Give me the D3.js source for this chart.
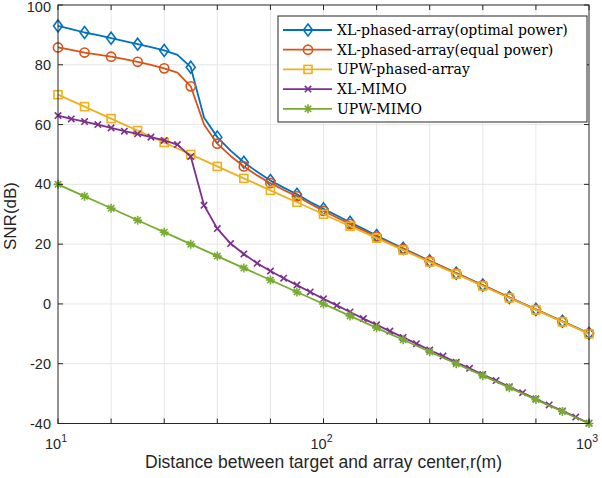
<!DOCTYPE html>
<html>
<head>
<meta charset="utf-8">
<script src="https://cdn.jsdelivr.net/npm/d3@7"></script>
<style>
  body { margin: 0; background: #fff; }
  svg { display: block; }
</style>
</head>
<body>
<div id="chart"></div>
<script>
// distance r (m), sampled every 0.05 decade
const distance = [10, 11.22, 12.59, 14.13, 15.85, 17.78, 19.95, 22.39, 25.12, 28.18,
    31.62, 35.48, 39.81, 44.67, 50.12, 56.23, 63.10, 70.79, 79.43, 89.13,
    100, 112.2, 125.9, 141.3, 158.5, 177.8, 199.5, 223.9, 251.2, 281.8,
    316.2, 354.8, 398.1, 446.7, 501.2, 562.3, 631.0, 707.9, 794.3, 891.3, 1000];

const xlOptimal = [93, 91.9, 90.8, 89.9, 88.9, 87.9, 86.9, 85.9, 84.8, 83.3,
    79.2, 62.4, 55.8, 51.3, 47.4, 44.2, 41.3, 38.9, 36.7, 34.1,
    31.8, 29.6, 27.3, 25.1, 22.9, 20.7, 18.6, 16.5, 14.4, 12.4,
    10.3, 8.3, 6.3, 4.2, 2.2, 0.2, -1.8, -3.8, -5.8, -7.8, -9.8];

const xlEqual = [85.8, 85.0, 84.1, 83.4, 82.7, 81.9, 81.0, 80.0, 78.8, 77.4,
    72.8, 60.0, 53.6, 49.5, 46.0, 43.0, 40.4, 38.1, 36.0, 33.5,
    31.1, 28.9, 26.7, 24.6, 22.5, 20.4, 18.4, 16.3, 14.3, 12.3,
    10.2, 8.2, 6.2, 4.2, 2.1, 0.1, -1.9, -3.9, -5.9, -7.9, -9.9];

const upwPhased = [70, 68, 66, 64, 62, 60, 58, 56, 54, 52,
    50, 48, 46, 44, 42, 40, 38, 36, 34, 32,
    30, 28, 26, 24, 22, 20, 18, 16, 14, 12,
    10, 8, 6, 4, 2, 0, -2, -4, -6, -8, -10];

const xlMimo = [63, 61.9, 61.0, 60.0, 58.9, 57.8, 56.9, 55.8, 54.7, 53.3,
    49.3, 33, 25.2, 20.2, 16.7, 13.6, 11, 8.6, 6.3, 4.0,
    1.7, -0.5, -2.7, -4.9, -7.0, -9.1, -11.2, -13.3, -15.4, -17.45,
    -19.5, -21.55, -23.6, -25.65, -27.7, -29.7, -31.75, -33.8, -35.8, -37.85, -39.9];

const upwMimo = [40, 38, 36, 34, 32, 30, 28, 26, 24, 22,
    20, 18, 16, 14, 12, 10, 8, 6, 4, 2,
    0, -2, -4, -6, -8, -10, -12, -14, -16, -18,
    -20, -22, -24, -26, -28, -30, -32, -34, -36, -38, -40];

const xTicks = [10, 15.85, 25.12, 39.81, 63.10, 100, 158.5, 251.2, 398.1, 631.0, 1000];
const xLabelTicks = [10, 100, 1000];
const xLabelExp = ["1", "2", "3"];
const yTicks = [-40, -20, 0, 20, 40, 60, 80, 100];

const series = [
    { name: "XL-phased-array(optimal power)", values: xlOptimal, color: "#0072BD", marker: "diamond", step: 2 },
    { name: "XL-phased-array(equal power)", values: xlEqual, color: "#D95319", marker: "circle", step: 2 },
    { name: "UPW-phased-array", values: upwPhased, color: "#EDB120", marker: "square", step: 2 },
    { name: "XL-MIMO", values: xlMimo, color: "#7E2F8E", marker: "cross", step: 1 },
    { name: "UPW-MIMO", values: upwMimo, color: "#77AC30", marker: "asterisk", step: 2 }
];

const W = 602, H = 478;
const margin = { left: 58, right: 13, top: 5, bottom: 54.5 };
const axisColor = "#262626";

const svg = d3.select("#chart").append("svg")
    .attr("width", W)
    .attr("height", H);

const x = d3.scaleLog()
    .domain([10, 1000])
    .range([margin.left, W - margin.right]);
const y = d3.scaleLinear()
    .domain([-40, 100])
    .range([H - margin.bottom, margin.top]);

const x0 = x.range()[0], x1 = x.range()[1];
const y0 = y.range()[0], y1 = y.range()[1];

// Grid
const grid = svg.append("g").attr("stroke", "#e6e6e6").attr("stroke-width", 1);
grid.selectAll("line.gx").data(xTicks.slice(1, -1)).enter()
    .append("line")
    .attr("x1", d => x(d)).attr("x2", d => x(d))
    .attr("y1", y1).attr("y2", y0);
grid.selectAll("line.gy").data(yTicks.slice(1, -1)).enter()
    .append("line")
    .attr("x1", x0).attr("x2", x1)
    .attr("y1", d => y(d)).attr("y2", d => y(d));

// Lines
const line = d3.line()
    .x((d, i) => x(distance[i]))
    .y(d => y(d));

function drawMarker(g, type, color) {
    if (type === "diamond") {
        g.append("path").attr("d", "M0,-6L4.5,0L0,6L-4.5,0Z")
            .attr("fill", "none").attr("stroke", color).attr("stroke-width", 1.6);
    } else if (type === "circle") {
        g.append("circle").attr("r", 4.6)
            .attr("fill", "none").attr("stroke", color).attr("stroke-width", 1.6);
    } else if (type === "square") {
        g.append("rect").attr("x", -4).attr("y", -4).attr("width", 8).attr("height", 8)
            .attr("fill", "none").attr("stroke", color).attr("stroke-width", 1.6);
    } else if (type === "cross") {
        g.append("path").attr("d", "M-3.2,-3.2L3.2,3.2M-3.2,3.2L3.2,-3.2")
            .attr("stroke", color).attr("stroke-width", 1.6);
    } else if (type === "asterisk") {
        g.append("path").attr("d", "M-4.5,0L4.5,0M0,-4.5L0,4.5M-3.2,-3.2L3.2,3.2M-3.2,3.2L3.2,-3.2")
            .attr("stroke", color).attr("stroke-width", 1.6);
    }
}

const plot = svg.append("g");
series.forEach(s => {
    const g = plot.append("g");
    g.append("path")
        .datum(s.values)
        .attr("fill", "none")
        .attr("stroke", s.color)
        .attr("stroke-width", 1.8)
        .attr("stroke-linejoin", "round")
        .attr("d", line);
    const pts = s.values.map((v, i) => ({ v: v, i: i })).filter(d => d.i % s.step === 0);
    g.selectAll("g.m").data(pts).enter()
        .append("g")
        .attr("transform", d => `translate(${x(distance[d.i])},${y(d.v)})`)
        .each(function () { drawMarker(d3.select(this), s.marker, s.color); });
});

// Axes box and ticks
const axes = svg.append("g").attr("stroke", axisColor).attr("stroke-width", 1);
axes.append("rect")
    .attr("x", x0).attr("y", y1)
    .attr("width", x1 - x0).attr("height", y0 - y1)
    .attr("fill", "none");
const tl = 5;
xTicks.forEach(t => {
    axes.append("line").attr("x1", x(t)).attr("x2", x(t)).attr("y1", y0).attr("y2", y0 - tl);
    axes.append("line").attr("x1", x(t)).attr("x2", x(t)).attr("y1", y1).attr("y2", y1 + tl);
});
yTicks.forEach(t => {
    axes.append("line").attr("x1", x0).attr("x2", x0 + tl).attr("y1", y(t)).attr("y2", y(t));
    axes.append("line").attr("x1", x1).attr("x2", x1 - tl).attr("y1", y(t)).attr("y2", y(t));
});

const font = "Helvetica, 'Liberation Sans', Arial, sans-serif";

// Y tick labels (top one nudged so it stays inside the page)
svg.append("g").selectAll("text").data(yTicks).enter()
    .append("text")
    .attr("x", x0 - 7)
    .attr("y", d => Math.max(y(d) + 5, 12))
    .attr("text-anchor", "end")
    .attr("font-family", font)
    .attr("font-size", "14.5px")
    .attr("fill", axisColor)
    .text(d => d);

// X tick labels (10^n)
xLabelTicks.forEach((t, i) => {
    const tx = svg.append("text")
        .attr("x", x(t) - 2)
        .attr("y", y0 + 25)
        .attr("text-anchor", "middle")
        .attr("font-family", font)
        .attr("font-size", "14.5px")
        .attr("fill", axisColor);
    tx.append("tspan").text("10");
    tx.append("tspan").attr("dy", -7).attr("font-size", "10.5px").text(xLabelExp[i]);
});

// Axis titles
svg.append("text")
    .attr("x", (x0 + x1) / 2)
    .attr("y", 468)
    .attr("text-anchor", "middle")
    .attr("font-family", font)
    .attr("font-size", "17.5px")
    .attr("fill", axisColor)
    .text("Distance between target and array center,r(m)");

svg.append("text")
    .attr("transform", `translate(16,216) rotate(-90)`)
    .attr("text-anchor", "middle")
    .attr("font-family", font)
    .attr("font-size", "17px")
    .attr("fill", axisColor)
    .text("SNR(dB)");

// Legend
const lg = svg.append("g").attr("transform", "translate(278,16)");
lg.append("rect")
    .attr("width", 309).attr("height", 106)
    .attr("fill", "#fff")
    .attr("stroke", axisColor).attr("stroke-width", 1);
series.forEach((s, i) => {
    const ly = 14 + i * 19.7;
    const row = lg.append("g").attr("transform", `translate(0,${ly})`);
    row.append("line").attr("x1", 5).attr("x2", 54).attr("y1", 0).attr("y2", 0)
        .attr("stroke", s.color).attr("stroke-width", 1.8);
    const m = row.append("g").attr("transform", "translate(30,0)");
    drawMarker(m, s.marker, s.color);
    row.append("text")
        .attr("x", 59).attr("y", 5)
        .attr("font-family", "'DejaVu Serif', serif")
        .attr("font-size", "14px")
        .attr("fill", "#000")
        .text(s.name);
});
</script>
</body>
</html>
